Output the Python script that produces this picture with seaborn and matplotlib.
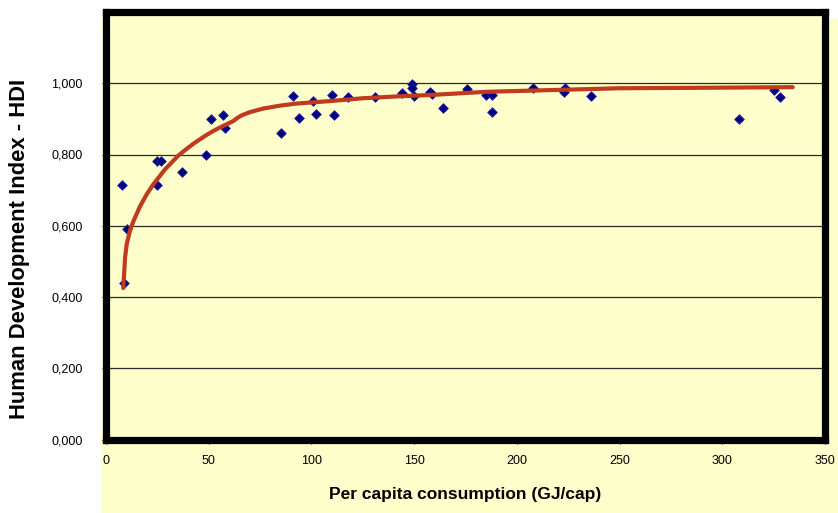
import seaborn as sns
import matplotlib.pyplot as plt
import matplotlib.patches as mpatches
import pandas as pd

# energy use per capita (GJ/cap) vs HDI
energy = [7.8, 10.1, 8.9, 24.7, 26.9, 25.0, 36.9, 48.8, 51.1, 56.8, 58.1,
          85.0, 90.9, 94.0, 100.8, 102.1, 110.2, 111.0, 118.0, 131.0, 144.0,
          149.0, 149.1, 149.9, 157.9, 158.7, 163.9, 175.9, 184.9, 188.1, 188.1,
          207.9, 223.6, 223.0, 236.0, 308.0, 325.1, 328.0]
hdi = [0.713, 0.590, 0.438, 0.783, 0.783, 0.713, 0.751, 0.799, 0.899, 0.910, 0.874,
       0.861, 0.965, 0.902, 0.950, 0.915, 0.966, 0.910, 0.962, 0.961, 0.972,
       0.997, 0.986, 0.965, 0.975, 0.969, 0.931, 0.984, 0.966, 0.966, 0.920,
       0.988, 0.986, 0.976, 0.965, 0.899, 0.982, 0.961]

# trend line as drawn in the reference
trend_x = [8.4, 9.3, 10.1, 11.7, 13.3, 16.6, 19.8, 23.0, 28.7, 35.2, 39.3, 42.5,
           45.8, 49.0, 52.2, 55.5, 58.8, 62.0, 64.0, 66.1, 70.1, 76.6, 84.5,
           92.8, 109.1, 125.3, 141.5, 157.7, 185.3, 217.8, 250.2, 281.0, 334.3]
trend_y = [0.425, 0.512, 0.549, 0.587, 0.612, 0.655, 0.688, 0.716, 0.758, 0.797,
           0.816, 0.830, 0.843, 0.855, 0.866, 0.876, 0.885, 0.894, 0.903, 0.910,
           0.919, 0.929, 0.937, 0.943, 0.950, 0.958, 0.963, 0.967, 0.976, 0.981,
           0.986, 0.987, 0.989]

x_ticks = [0, 50, 100, 150, 200, 250, 300, 350]
y_ticks = [0.0, 0.2, 0.4, 0.6, 0.8, 1.0]

pts = pd.DataFrame({"energy": energy, "hdi": hdi})
trend = pd.DataFrame({"x": trend_x, "y": trend_y})

sns.set_style("white")
plt.rcParams["font.family"] = ["Liberation Sans", "DejaVu Sans"]
plt.rcParams["text.color"] = "black"
plt.rcParams["axes.labelcolor"] = "black"
plt.rcParams["xtick.color"] = "black"
plt.rcParams["ytick.color"] = "black"

yellow = "#FFFFCC"
fig = plt.figure(figsize=(8.38, 5.13), dpi=100)
fig.patches.append(mpatches.Rectangle((101 / 838, 0), 1 - 101 / 838, (513 - 19) / 513,
                                      transform=fig.transFigure, facecolor=yellow,
                                      edgecolor="none", zorder=-10))
ax = fig.add_axes([106 / 838, 1 - 439.5 / 513, (825 - 106) / 838, (439.5 - 12) / 513])
ax.set_facecolor(yellow)
ax.set_zorder(2)

for v in y_ticks[1:]:
    ax.axhline(v, color="#2a2a2a", lw=0.9, zorder=1)

sns.scatterplot(data=pts, x="energy", y="hdi", marker="D", s=24, color="#000080",
                edgecolor="#2020a0", linewidth=0.6, ax=ax, zorder=3)
sns.lineplot(data=trend, x="x", y="y", sort=False, estimator=None, color="#C03A1E",
             lw=3, ax=ax, zorder=4)

ax.set_xlim(0, 350)
ax.set_ylim(0, 1.2)
ax.set_xticks(x_ticks)
ax.set_xticklabels([str(t) for t in x_ticks])
ax.set_yticks(y_ticks)
ax.set_yticklabels([f"{t:.3f}".replace(".", ",") for t in y_ticks])
ax.tick_params(axis="both", labelsize=9, length=3, width=0.8, color="black",
               labelcolor="black", direction="out", left=True, bottom=True)
ax.tick_params(axis="y", pad=14)
ax.tick_params(axis="x", pad=8)

for sp in ax.spines.values():
    sp.set_visible(True)
    sp.set_color("black")
    sp.set_linewidth(5.2)

ax.set_xlabel("Per capita consumption (GJ/cap)", fontsize=12.5, fontweight="bold")
ax.set_ylabel("Human Development Index - HDI", fontsize=15.8, fontweight="bold")
ax.xaxis.set_label_coords(0.5, (439.5 - 487) / 427.5)
ax.yaxis.set_label_coords((30 - 106) / 719, (439.5 - 249) / 427.5)

fig.savefig("out.png", dpi=100)
plt.close()
